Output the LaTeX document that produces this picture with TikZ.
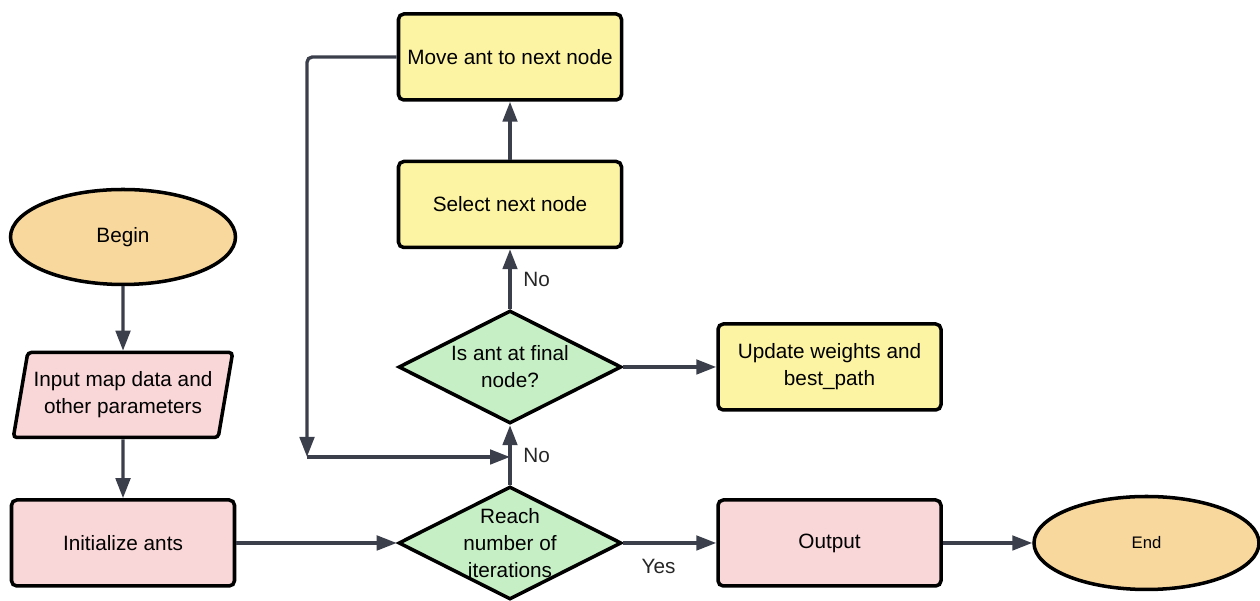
\documentclass[tikz,border=0pt]{standalone}
\usepackage{fontspec}
\setmainfont{Liberation Sans}
\usepackage{tikz}
\usetikzlibrary{positioning,arrows.meta,shapes.geometric}
\definecolor{termfill}{HTML}{F9D89E}
\definecolor{pinkfill}{HTML}{F9D6D8}
\definecolor{yellowfill}{HTML}{FCF4A3}
\definecolor{greenfill}{HTML}{C6EFC6}
\definecolor{linecol}{HTML}{3A3F4B}
\tikzset{
  term/.style={draw, ellipse, line width=2pt, fill=termfill, minimum width=45mm,
               minimum height=19mm, align=center, font=\fontsize{11.8}{15.4}\selectfont},
  io/.style={draw, trapezium, trapezium left angle=76, trapezium right angle=104,
             trapezium stretches body, rounded corners=2pt, line width=2pt, fill=pinkfill,
             minimum width=43.4mm, minimum height=17mm, align=center,
             font=\fontsize{11.8}{15.4}\selectfont},
  proc/.style={draw, rounded corners=3pt, line width=2pt, fill=#1, minimum width=44.6mm,
               minimum height=17.2mm, align=center, font=\fontsize{11.8}{15.4}\selectfont},
  proc/.default=yellowfill,
  cond/.style={draw, diamond, line width=2pt, fill=greenfill, minimum width=44.6mm,
               minimum height=22.6mm, inner sep=0pt},
  condtxt/.style={align=center, font=\fontsize{11.8}{15.4}\selectfont, inner sep=0pt},
  flow/.style={-{Triangle[length=4mm, width=2.9mm]}, line width=1.9pt, draw=linecol},
  lbl/.style={font=\fontsize{11.8}{14}\selectfont, text=black!85, inner sep=1pt},
}

\begin{document}
\begin{tikzpicture}
  \useasboundingbox (0,0) rectangle (25.2,12.02);

  % Start and input
  \node[term]   (begin)  at (2.46,7.28)  {Begin};
  \node[io]     (input)  at (2.46,4.12)  {Input map data and\\other parameters};
  \node[proc=pinkfill] (init) at (2.46,1.16) {Initialize ants};

  % Ant loop
  \node[cond]   (reach)  at (10.2,1.16)  {};
  \node[condtxt] at (reach.center) {Reach\\number of\\iterations};
  \node[cond]   (isant)  at (10.2,4.68)  {};
  \node[condtxt] at (isant.center) {Is ant at final\\node?};
  \node[proc]   (select) at (10.2,7.93)  {Select next node};
  \node[proc]   (move)   at (10.2,10.88) {Move ant to next node};
  \node[proc]   (update) at (16.59,4.68) {Update weights and\\best\_path};

  % Result
  \node[proc=pinkfill] (output) at (16.59,1.16) {Output};
  \node[term, minimum height=18.6mm, font=\fontsize{9.5}{12}\selectfont] (end) at (22.93,1.16) {End};

  \coordinate (loopbend) at (6.14,2.88);
  \coordinate (loopjoin) at (10.2,2.88);

  % Flows
  \draw[flow] (begin) -- (input);
  \draw[flow] (input) -- (init);
  \draw[flow] (init) -- (reach);
  \draw[flow] (reach) -- node[lbl, below=2.5mm, pos=0.38]{Yes} (output);
  \draw[flow] (output) -- (end);
  \draw[flow] (reach) -- node[lbl, right=2mm]{No} (isant);
  \draw[flow] (isant) -- node[lbl, right=2mm]{No} (select);
  \draw[flow] (select) -- (move);
  \draw[flow] (isant) -- (update);
  \draw[flow, rounded corners=3pt] (move.west) -| (loopbend);
  \draw[flow] (loopbend) -- (loopjoin);

\end{tikzpicture}
\end{document}
